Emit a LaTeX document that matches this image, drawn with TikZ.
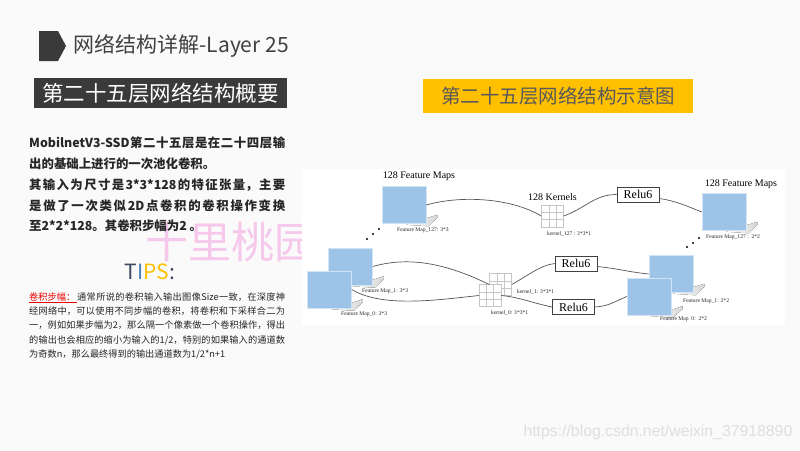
\documentclass[tikz,border=0pt]{standalone}
\usepackage{fontspec}
\setmainfont{Noto Sans CJK SC}
\newfontfamily\diafont{Liberation Serif}
\newfontfamily\urlfont{Liberation Sans}
\usetikzlibrary{positioning, calc, backgrounds}
\XeTeXlinebreaklocale "zh"
\XeTeXlinebreakskip=0pt plus 2pt minus 0.2pt
\definecolor{slideBg}{RGB}{250, 250, 250}
\definecolor{slideDark}{RGB}{58, 58, 58}
\definecolor{slideText}{RGB}{64, 64, 64}
\definecolor{bodyText}{RGB}{38, 38, 38}
\definecolor{slideGold}{RGB}{255, 192, 0}
\definecolor{goldText}{RGB}{89, 89, 89}
\definecolor{tipSlate}{RGB}{59, 74, 94}
\definecolor{tipBlue}{RGB}{74, 127, 181}
\definecolor{tipRed}{RGB}{235, 0, 0}
\definecolor{mapBlue}{RGB}{157, 195, 230}
\definecolor{wireGray}{RGB}{85, 85, 85}
\definecolor{wmPink}{RGB}{245, 200, 236}

\begin{document}
\begin{tikzpicture}[
    x=1pt, y=-1pt,
    fmap/.style={
        rectangle,
        draw=white!55!mapBlue,
        line width=0.5pt,
        fill=mapBlue,
        minimum width=44pt,
        minimum height=37pt,
        inner sep=0pt
    },
    kern/.style={
        rectangle,
        draw=gray!45,
        fill=white,
        line width=0.5pt,
        minimum size=22pt,
        inner sep=0pt,
        path picture={
            \foreach \f in {1,2} {
                \draw[gray!45, line width=0.5pt]
                    ($(path picture bounding box.north west)!\f/3!(path picture bounding box.north east)$) --
                    ($(path picture bounding box.south west)!\f/3!(path picture bounding box.south east)$);
                \draw[gray!45, line width=0.5pt]
                    ($(path picture bounding box.north west)!\f/3!(path picture bounding box.south west)$) --
                    ($(path picture bounding box.north east)!\f/3!(path picture bounding box.south east)$);
            }
        }
    },
    relu/.style={
        rectangle,
        draw=black!75,
        fill=white,
        line width=0.7pt,
        minimum width=42pt,
        minimum height=15pt,
        inner sep=0pt,
        font=\diafont\fontsize{12}{12}\selectfont
    },
    heading/.style={
        inner sep=0pt,
        font=\diafont\fontsize{10}{10}\selectfont
    },
    mapnote/.style={
        inner sep=0pt,
        text=black!85,
        font=\diafont\fontsize{5.6}{6}\selectfont
    },
    wire/.style={
        draw=wireGray,
        line width=0.7pt
    },
    shadowwedge/.style={
        left color=white,
        right color=gray!32,
        draw=none
    },
    darkbar/.style={
        rectangle,
        fill=slideDark,
        minimum width=253pt,
        minimum height=30pt,
        text=white,
        font=\fontsize{21.5}{22}\selectfont
    },
    goldbar/.style={
        rectangle,
        fill=slideGold,
        minimum width=270pt,
        minimum height=34pt,
        text=goldText,
        font=\fontsize{19.5}{20}\selectfont
    },
    para/.style={
        anchor=north west,
        inner sep=0pt,
        text width=256pt,
        align=justify,
        text=bodyText
    }
]

% 0. Slide background, watermark and diagram panel
\begin{scope}[on background layer]
    \fill[slideBg] (0,0) rectangle (800,450);
    \node[anchor=west, text=wmPink, font=\fontsize{43}{43}\selectfont] (peachmark) at (142,242) {十里桃园};
    \fill[white] (302,169) rectangle (785,325);
\end{scope}

% 1. Title and section bars
\fill[slideDark] (39,31) -- (58,31) -- (66,46) -- (58,61) -- (39,61) -- cycle;
\node[anchor=west, text=slideText, font=\fontsize{21}{21}\selectfont] (title) at (70,46) {网络结构详解-Layer 25};
\node[darkbar] (summary) at (160.5,93.3) {第二十五层网络结构概要};
\node[goldbar] (schemhead) at (558,96) {第二十五层网络结构示意图};

% 2. Text column
\node[para, font=\fontsize{12.4}{20.75}\selectfont\bfseries] (intro) at (29,137)
    {MobilnetV3-SSD第二十五层是在二十四层输\linebreak 出的基础上进行的一次池化卷积。\par
     其输入为尺寸是3*3*128的特征张量，主要\linebreak 是做了一次类似2D点卷积的卷积操作变换\linebreak 至2*2*128。其卷积步幅为2 。};
\node[font=\fontsize{21}{21}\selectfont] (tips) at (150,272)
    {\textcolor{tipSlate}{T}\textcolor{tipBlue}{I}\textcolor{slideGold}{PS}\textcolor{tipSlate}{:}};
\node[para, font=\fontsize{9.2}{14.25}\selectfont] (tipnote) at (29,292.5)
    {\textcolor{tipRed}{\underline{卷积步幅：\hspace{2pt}}}通常所说的卷积输入输出图像Size一致，在深度神\linebreak
     经网络中，可以使用不同步幅的卷积，将卷积和下采样合二为\linebreak
     一，例如如果步幅为2，那么隔一个像素做一个卷积操作，得出\linebreak
     的输出也会相应的缩小为输入的1/2，特别的如果输入的通道数\linebreak
     为奇数n，那么最终得到的输出通道数为1/2*n+1};

% 3. Input feature maps
\node[fmap] (inA127) at (404,205) {};
\node[fmap] (inA1) at (350.5,266.5) {};
\node[fmap] (inA0) at (329.5,289.5) {};
\node[heading, above=5pt of inA127, xshift=15pt] (inhead) {128 Feature Maps};
\node[mapnote, below right=4pt and -7pt of inA127.south] (inA127note) {Feature Map\_127: 3*3};
\node[mapnote, below right=3.5pt and 11.5pt of inA1.south] (inA1note) {Feature Map\_1: 3*3};
\node[mapnote, below right=3pt and 11.5pt of inA0.south] (inA0note) {Feature Map\_0: 3*3};

% 4. Kernels
\node[kern] (k127) at (552.5,216) {};
\node[kern] (k1) at (500.5,284.5) {};
\node[kern] (k0) at (490,295.5) {};
\node[heading, above=4pt of k127] (khead) {128 Kernels};
\node[mapnote, below right=4.5pt and -5.5pt of k127.south] (k127note) {kernel\_127 : 3*3*1};
\node[mapnote, anchor=west] (k1note) at (517,292) {kernel\_1: 3*3*1};
\node[mapnote, below right=3.5pt and 1pt of k0.south] (k0note) {kernel\_0: 3*3*1};

% 5. Activations
\node[relu] (r127) at (638,194.5) {Relu6};
\node[relu] (r1) at (576,263.5) {Relu6};
\node[relu] (r0) at (573.5,307) {Relu6};

% 6. Output feature maps
\node[fmap] (outB127) at (724,212) {};
\node[fmap] (outB1) at (671,274) {};
\node[fmap] (outB0) at (649,296.5) {};
\node[heading, above=4pt of outB127, xshift=17pt] (outhead) {128 Feature Maps};
\node[mapnote, below right=3.5pt and -18pt of outB127.south] (outB127note) {Feature Map\_127 :~~2*2};
\node[mapnote, below right=5.5pt and 12pt of outB1.south] (outB1note) {Feature Map\_1: 2*2};
\node[mapnote, below right=1pt and 11pt of outB0.south] (outB0note) {Feature Map~~0:~~2*2};

\begin{scope}[on background layer]
    \foreach \m in {inA127,inA1,inA0,outB127,outB1,outB0}
        \fill[shadowwedge] ($(\m.south east)+(-20,1)$) -- ($(\m.south east)+(11,-9)$)
            -- ($(\m.south east)+(11,-6)$) -- ($(\m.south east)+(2,2.5)$) -- cycle;
\end{scope}

% ellipsis dots
\foreach \x/\y in {367/239, 373/234, 379/229, 687/247, 693/243, 699/238}
    \fill (\x,\y) circle (1.1pt);

% 7. Connectors
\draw[wire] (inA127.east) .. controls +(35,-10) and +(-30,-18) .. (k127.west);
\draw[wire] (k127.east) .. controls +(22,-8) and +(-22,0) .. (r127.west);
\draw[wire] ([yshift=-4pt]r127.east) .. controls +(15,2) and +(-15,-6) .. (outB127.west);
\draw[wire] (inA1.east) .. controls +(35,-10) and +(-45,-22) .. (k1.west);
\draw[wire] (inA0.east) .. controls +(30,18) and +(-45,5) .. (k0.west);
\draw[wire] (k1.east) .. controls +(18,-10) and +(-15,2) .. (r1.west);
\draw[wire] (k0.east) .. controls +(20,2) and +(-20,-4) .. (r0.west);
\draw[wire] ([yshift=-3pt]r1.east) .. controls +(20,2) and +(-20,-2) .. (outB1.west);
\draw[wire] (r0.east) .. controls +(14,-1) and +(-14,6) .. (outB0.west);

% 8. Source line
\node[anchor=west, text=black!13, font=\urlfont\fontsize{15.8}{16}\selectfont] (srcurl) at (520,432) {https://blog.csdn.net/weixin\_37918890};

\end{tikzpicture}
\end{document}
